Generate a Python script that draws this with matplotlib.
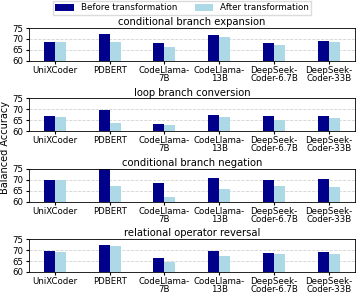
import matplotlib
matplotlib.use("Agg")
import matplotlib.pyplot as plt
import numpy as np

models = ["UniXCoder", "PDBERT", "CodeLlama-\n7B", "CodeLlama-\n13B",
          "DeepSeek-\nCoder-6.7B", "DeepSeek-\nCoder-33B"]
titles = ["conditional branch expansion", "loop branch conversion",
          "conditional branch negation", "relational operator reversal"]

before = [
    [68.5, 72.3, 68.1, 71.9, 68.3, 69.1],
    [66.8, 69.7, 63.5, 67.2, 67.1, 66.9],
    [70.1, 76.0, 68.5, 70.6, 69.8, 70.3],
    [69.4, 72.2, 66.5, 69.5, 68.8, 69.3],
]
after = [
    [68.5, 68.8, 66.3, 70.8, 67.2, 68.6],
    [66.6, 63.8, 62.9, 66.4, 65.3, 66.1],
    [70.1, 67.1, 62.3, 65.6, 67.3, 66.7],
    [69.3, 72.0, 64.4, 67.1, 68.3, 68.3],
]

fig, axes = plt.subplots(4, 1, figsize=(3.57, 2.95), dpi=100)
fig.subplots_adjust(left=0.081, right=0.994, top=0.905, bottom=0.078, hspace=1.15)

x = np.arange(len(models))
w = 0.2
for i, ax in enumerate(axes):
    ax.bar(x - w / 2, before[i], w, color="darkblue", label="Before transformation", zorder=2)
    ax.bar(x + w / 2, after[i], w, color="lightblue", label="After transformation", zorder=2)
    ax.set_ylim(60, 75)
    ax.set_yticks([60, 65, 70, 75])
    ax.set_xticks(x)
    ax.set_xticklabels(models, fontsize=6.2, linespacing=0.85)
    ax.tick_params(axis="y", labelsize=6.2, pad=1.2, length=2.5)
    ax.tick_params(axis="x", pad=1.2, length=2.5)
    ax.yaxis.grid(True, linestyle="--", color="lightgray", linewidth=0.6, zorder=0)
    ax.set_title(titles[i], fontsize=7.2, pad=2)
    for s in ax.spines.values():
        s.set_linewidth(0.6)

fig.text(0.0, 0.5, "Balanced Accuracy", rotation=90, va="center", ha="left", fontsize=7)

h, l = axes[0].get_legend_handles_labels()
fig.legend(h, l, loc="upper center", bbox_to_anchor=(0.51, 1.012), ncol=2, fontsize=6.3,
           frameon=True, fancybox=False, edgecolor="lightgray", handlelength=2.1,
           columnspacing=2.0, borderpad=0.3, handleheight=0.9, handletextpad=0.8)

fig.savefig("out.png", dpi=100)
